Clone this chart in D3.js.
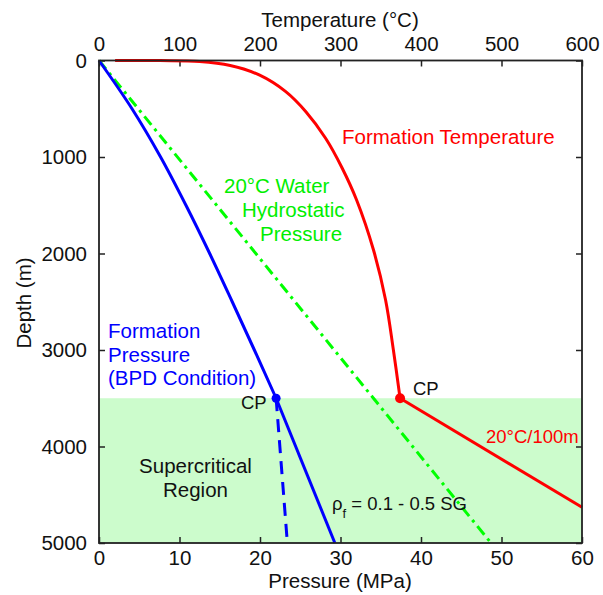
<!DOCTYPE html>
<html>
<head>
<meta charset="utf-8">
<script src="https://cdn.jsdelivr.net/npm/d3@7"></script>
<style>
  body { margin: 0; background: #fff; }
  svg { display: block; font-family: "Liberation Sans", Arial, sans-serif; }
</style>
</head>
<body>
<svg id="chart" width="603" height="595"></svg>
<script>
// formation temperature (deg C) vs depth (m), above the critical point
const tempDepth = [0, 1, 10, 52, 150, 323, 531, 806, 1114, 1446, 1964, 2482, 3000, 3500];
const tempValues = [20, 76, 125, 163, 199, 232, 257, 281.5, 302, 320, 341, 356, 365.7, 374];
// 20 C / 100 m gradient below the critical point
const gradDepth = [3500, 4630];
const gradTemp = [374, 600];

// formation pressure (MPa) under BPD condition
const presDepth = [0, 500, 1000, 1500, 2000, 2500, 3000, 3500];
const presValues = [0, 4.1, 7.65, 10.8, 13.75, 16.55, 19.3, 22.0];
// supercritical fluid density range 0.1 - 0.5 SG
const scDepth = [3500, 5000];
const scLowDensity = [22.0, 23.4];
const scHighDensity = [22.0, 29.3];

// 20 C water hydrostatic
const hydroDepth = [0, 5000];
const hydroPres = [0, 48.7];

const criticalDepth = 3500;
const depthTicks = [0, 1000, 2000, 3000, 4000, 5000];
const tempTicks = [0, 100, 200, 300, 400, 500, 600];
const presTicks = [0, 10, 20, 30, 40, 50, 60];

const svg = d3.select('#chart');
const pLeft = 99, pRight = 582, pTop = 60.5, pBottom = 543;

const yDepth = d3.scaleLinear().domain([0, 5000]).range([pTop, pBottom]);
const xTemp = d3.scaleLinear().domain([0, 600]).range([pLeft, pRight]);
const xPres = d3.scaleLinear().domain([0, 60]).range([pLeft, pRight]);

// supercritical region
svg.append('rect')
  .attr('x', pLeft)
  .attr('y', yDepth(criticalDepth))
  .attr('width', pRight - pLeft)
  .attr('height', pBottom - yDepth(criticalDepth))
  .style('fill', '#ccfccc');

const fontSize = '20.5px';

const gLeft = svg.append('g')
  .attr('transform', 'translate(' + pLeft + ',0)')
  .call(d3.axisLeft(yDepth).tickValues(depthTicks).tickSizeInner(-6).tickSizeOuter(0).tickPadding(12).tickFormat(d3.format('d')));
const gRight = svg.append('g')
  .attr('transform', 'translate(' + pRight + ',0)')
  .call(d3.axisRight(yDepth).tickValues(depthTicks).tickSizeInner(-6).tickSizeOuter(0).tickFormat(''));
const gTop = svg.append('g')
  .attr('transform', 'translate(0,' + pTop + ')')
  .call(d3.axisTop(xTemp).tickValues(tempTicks).tickSizeInner(-6).tickSizeOuter(0).tickPadding(9.5));
const gBottom = svg.append('g')
  .attr('transform', 'translate(0,' + pBottom + ')')
  .call(d3.axisBottom(xPres).tickValues(presTicks).tickSizeInner(-6).tickSizeOuter(0).tickPadding(7));

[gLeft, gRight, gTop, gBottom].forEach(g => {
  g.select('.domain').remove();
  g.selectAll('line').style('stroke', '#222').style('stroke-width', 1.5);
  g.selectAll('text').style('font-size', fontSize).style('fill', '#111').style('font-family', '"Liberation Sans", Arial, sans-serif');
});

const lineOf = (xs, ys, xScale, curve) => d3.line()
  .x((d, i) => xScale(xs[i]))
  .y((d, i) => yDepth(ys[i]))
  .curve(curve || d3.curveLinear)(ys);

// hydrostatic
svg.append('path')
  .attr('d', lineOf(hydroPres, hydroDepth, xPres))
  .style('fill', 'none')
  .style('stroke', '#00ff00')
  .style('stroke-width', 3)
  .style('stroke-dasharray', '11,5,3,5');

// formation pressure
svg.append('path')
  .attr('d', lineOf(presValues, presDepth, xPres, d3.curveCatmullRom.alpha(0.5)))
  .style('fill', 'none')
  .style('stroke', '#0000ff')
  .style('stroke-width', 3);
svg.append('path')
  .attr('d', lineOf(scHighDensity, scDepth, xPres))
  .style('fill', 'none')
  .style('stroke', '#0000ff')
  .style('stroke-width', 3);
svg.append('path')
  .attr('d', lineOf(scLowDensity, scDepth, xPres))
  .style('fill', 'none')
  .style('stroke', '#0000ff')
  .style('stroke-width', 3)
  .style('stroke-dasharray', '13,8');

// formation temperature
svg.append('path')
  .attr('d', lineOf(tempValues, tempDepth, xTemp, d3.curveCatmullRom.alpha(0.5)))
  .style('fill', 'none')
  .style('stroke', '#ff0000')
  .style('stroke-width', 3);
svg.append('path')
  .attr('d', lineOf(gradTemp, gradDepth, xTemp))
  .style('fill', 'none')
  .style('stroke', '#ff0000')
  .style('stroke-width', 3);

// critical points
svg.append('circle')
  .attr('cx', xPres(presValues[presValues.length - 1]))
  .attr('cy', yDepth(criticalDepth))
  .attr('r', 4.5)
  .style('fill', '#0000ff');
svg.append('circle')
  .attr('cx', xTemp(tempValues[tempValues.length - 1]))
  .attr('cy', yDepth(criticalDepth))
  .attr('r', 5)
  .style('fill', '#ff0000');

// frame
svg.append('rect')
  .attr('x', pLeft)
  .attr('y', pTop)
  .attr('width', pRight - pLeft)
  .attr('height', pBottom - pTop)
  .style('fill', 'none')
  .style('stroke', '#222')
  .style('stroke-width', 1.8);

// text
const label = (txt, x, y, color, size, anchor) => svg.append('text')
  .text(txt)
  .attr('x', x)
  .attr('y', y)
  .attr('text-anchor', anchor || 'start')
  .style('fill', color)
  .style('font-size', size || fontSize);

label('Temperature (\u00B0C)', 340, 27, '#111', fontSize, 'middle');
label('Pressure (MPa)', 340, 588, '#111', fontSize, 'middle');
svg.append('text')
  .text('Depth (m)')
  .attr('transform', 'translate(31,303) rotate(-90)')
  .attr('text-anchor', 'middle')
  .style('fill', '#111')
  .style('font-size', fontSize);

label('Formation Temperature', 342, 144, '#ff0000');
label('20\u00B0C Water', 224, 193, '#00ee00');
label('Hydrostatic', 242, 217, '#00ee00');
label('Pressure', 260, 241, '#00ee00');
label('Formation', 108, 338, '#0000ff');
label('Pressure', 108, 361.5, '#0000ff');
label('(BPD Condition)', 108, 385, '#0000ff');
label('CP', 241, 409, '#111', '18.5px');
label('CP', 413, 395, '#111', '18.5px');
label('20\u00B0C/100m', 486, 443, '#ff0000', '18.5px');
label('Supercritical', 195.5, 473, '#111', fontSize, 'middle');
label('Region', 195.5, 497, '#111', fontSize, 'middle');

const rho = label('\u03C1', 332, 510, '#111', '18.5px');
rho.append('tspan').text('f').attr('baseline-shift', 'sub').style('font-size', '13px');
rho.append('tspan').text(' = 0.1 - 0.5 SG');
</script>
</body>
</html>
